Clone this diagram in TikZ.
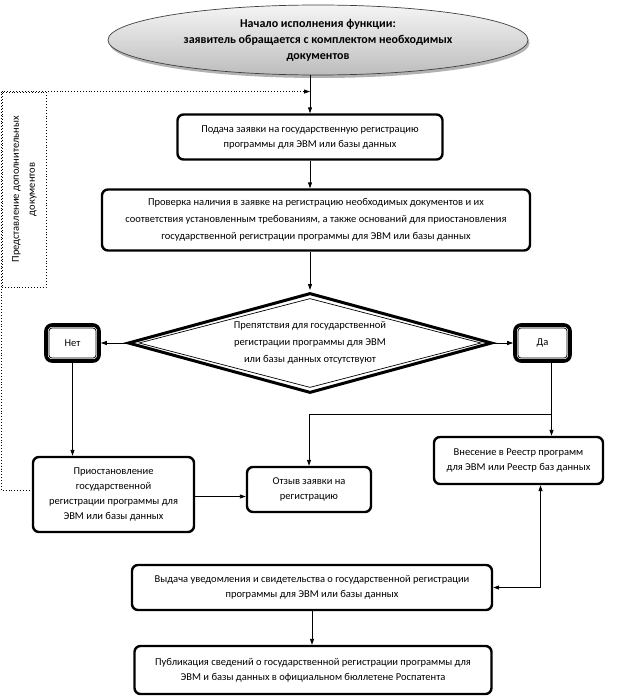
\documentclass[tikz,border=0pt]{standalone}
\usepackage{fontspec}
\setmainfont{Carlito}
\usetikzlibrary{shapes.geometric,arrows.meta,calc}
\begin{document}
\begin{tikzpicture}[x=1pt,y=-1pt,
  txt/.style={font=\fontsize{10.5}{15}\selectfont, align=center},
  wide/.style={font=\fontsize{10.5}{17}\selectfont},
  box/.style={txt, draw, line width=2.4pt, rounded corners=6pt, fill=white, inner sep=0pt},
  dblbox/.style={txt, draw, line width=3.6pt, rounded corners=6pt, fill=white, inner sep=0pt},
  innerline/.style={line width=0.7pt, rounded corners=3pt},
  tip/.tip={Triangle[length=6pt,width=4pt]},
  arr/.style={-tip, line width=0.9pt},
  arrb/.style={tip-tip, line width=0.9pt},
  ln/.style={line width=0.9pt},
  dotline/.style={line width=0.9pt, dotted},
  startell/.style={ellipse, draw=black!75, line width=0.7pt, top color=gray!8, bottom color=gray!52,
     inner sep=0pt, minimum width=420pt, minimum height=70pt,
     font=\bfseries\fontsize{12}{16}\selectfont, align=center}
]
\useasboundingbox (0,0) rectangle (642,696);

% start ellipse with shadow
\node[ellipse, fill=gray!60, inner sep=0pt, minimum width=420pt, minimum height=70pt] (startsh) at (319.5,43) {};
\node[startell] (start) at (318,40) {Начало исполнения функции:\\ заявитель обращается с комплектом необходимых\\ документов};

\node[box, minimum width=265pt, minimum height=45pt] (box1) at (310,137)
  {Подача заявки на государственную регистрацию\\ программы для ЭВМ или базы данных};
\node[box, wide, minimum width=428pt, minimum height=61pt] (box2) at (316,220)
  {Проверка наличия в заявке на регистрацию необходимых документов и их\\ соответствия установленным требованиям, а также оснований для приостановления\\ государственной регистрации программы для ЭВМ или базы данных};

% decision diamond
\node[diamond, draw, line width=3pt, inner sep=0pt, minimum width=364pt, minimum height=100pt] (d) at (310,343) {};
\node[diamond, draw, line width=0.7pt, inner sep=0pt, minimum width=342pt, minimum height=89pt] (dinner) at (d.center) {};
\node[txt, wide] (dtext) at (d.center) {Препятствия для государственной\\ регистрации программы для ЭВМ\\ или базы данных отсутствуют};

\node[dblbox, minimum width=53pt, minimum height=36pt] (net) at (72.5,343) {Нет};
\draw[innerline] ([shift={(4.8pt,-4.8pt)}]net.north west) rectangle ([shift={(-4.8pt,4.8pt)}]net.south east);
\node[dblbox, minimum width=55pt, minimum height=36pt] (da) at (542.5,343) {Да};
\draw[innerline] ([shift={(4.8pt,-4.8pt)}]da.north west) rectangle ([shift={(-4.8pt,4.8pt)}]da.south east);

\node[box, minimum width=161pt, minimum height=75pt] (prio) at (113.5,494.5)
  {Приостановление\\ государственной\\ регистрации программы для\\ ЭВМ или базы данных};
\node[box, minimum width=124pt, minimum height=45pt] (otzyv) at (309,489.5)
  {Отзыв заявки на\\ регистрацию};
\node[box, minimum width=169pt, minimum height=47pt] (vnes) at (518.5,460.5)
  {Внесение в Реестр программ\\ для ЭВМ или Реестр баз данных};
\node[box, minimum width=360pt, minimum height=45pt] (vyd) at (312,587.5)
  {Выдача уведомления и свидетельства о государственной регистрации\\ программы для ЭВМ или базы данных};
\node[box, minimum width=357pt, minimum height=48pt] (pub) at (313,670)
  {Публикация сведений о государственной регистрации программы для\\ ЭВМ и базы данных в официальном бюллетене Роспатента};

% dotted side label
\node[draw, dotline, minimum width=44pt, minimum height=195pt, inner sep=0pt, txt] (dop) at (24,189.5)
  {\rotatebox{90}{\begin{tabular}{@{}c@{}}Представление дополнительных\\[1pt] документов\end{tabular}}};

% connectors
\draw[arr] (start.south -| box1.north) -- (box1.north);
\draw[dotline, -tip] (dop.north west) -- (dop.north -| box1.north);
\draw[dotline] (dop.north west) |- ([yshift=4pt]prio.west);
\draw[arr] (box1.south) -- (box1.south |- box2.north);
\draw[arr, shorten >=1.5pt] (box2.south -| d.north) -- (d.north);
\draw[arr] (d.west) -- (net.east);
\draw[arr] (d.east) -- (da.west);
\draw[arr] (net.south) -- (net.south |- prio.north);
\coordinate (dab) at ([xshift=9pt]da.south);
\coordinate (br) at ($(dab)+(0,52)$);
\draw[arr] (dab) -- (dab |- vnes.north);
\draw[arr] (br) -| (otzyv.north);
\draw[arr] ([yshift=-2pt]prio.east) -- ([yshift=-2pt]prio.east -| otzyv.west);
\draw[arrb] ([xshift=22pt]vnes.south) |- (vyd.east);
\draw[arr] (vyd.south) -- (vyd.south |- pub.north);
\end{tikzpicture}
\end{document}
